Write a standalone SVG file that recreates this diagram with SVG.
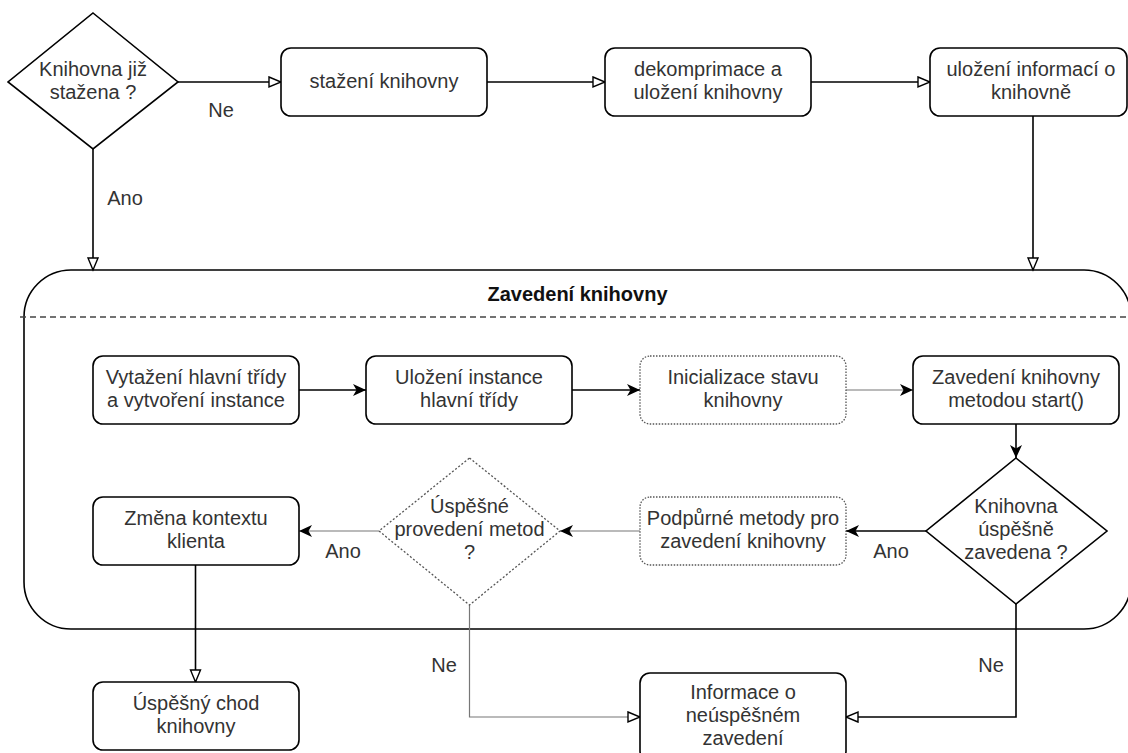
<svg xmlns="http://www.w3.org/2000/svg" width="1128" height="753" viewBox="0 0 1128 753">
<defs>
<style>
text{font-family:"Liberation Sans",Arial,sans-serif;font-size:20px;fill:#333;text-anchor:middle}
.title{font-weight:bold;fill:#111}
.box{fill:#fff;stroke:#000;stroke-width:1.6}
.dotbox{fill:#fff;stroke:#555;stroke-width:1.3;stroke-dasharray:1.5 1.5}
.dashdia{fill:#fff;stroke:#555;stroke-width:1.3;stroke-dasharray:2 2}
.ln{fill:none;stroke:#000;stroke-width:1.6}
.gl{fill:none;stroke:#777;stroke-width:1.2}
.open{marker-end:url(#open)}
.cls{marker-end:url(#cls)}
</style>
<marker id="open" markerUnits="userSpaceOnUse" markerWidth="16" markerHeight="14" refX="13" refY="6" orient="auto">
<path d="M1,1 L13,6 L1,11 Z" fill="#fff" stroke="#000" stroke-width="1.4"/>
</marker>
<marker id="cls" markerUnits="userSpaceOnUse" markerWidth="16" markerHeight="14" refX="13" refY="6" orient="auto">
<path d="M0,0 L13,6 L0,12 L3.5,6 Z" fill="#000"/>
</marker>
</defs>
<g id="zavedeni-knihovny">
<rect x="24" y="270" width="1107" height="359" rx="47" ry="47" fill="#fff" stroke="#000" stroke-width="1.6"/>
<line x1="20" y1="317" x2="1128" y2="317" stroke="#444" stroke-width="1.6" stroke-dasharray="6 4"/>
<text class="title" x="577.5" y="301">Zavedení knihovny</text>
</g>
<g id="connectors">
<path class="ln open" d="M178,82 L281,82"/>
<path class="ln open" d="M487,82 L605,82"/>
<path class="ln open" d="M811,82 L930,82"/>
<path class="ln open" d="M93,149 L93,270"/>
<path class="ln open" d="M1033,116 L1033,270"/>
<path class="ln cls" d="M299,390 L366,390"/>
<path class="ln cls" d="M572,390 L640,390"/>
<path class="gl cls" d="M846,390 L913,390"/>
<path class="ln cls" d="M1016,424 L1016,458"/>
<path class="ln cls" d="M926,531 L846,531"/>
<path class="gl cls" d="M640,531 L560,531"/>
<path class="gl cls" d="M379,531 L299,531"/>
<path class="ln open" d="M195.5,565 L195.5,682"/>
<path class="gl open" d="M469.5,605 L469.5,717 L640,717"/>
<path class="ln open" d="M1016,604 L1016,717 L846,717"/>
<text x="221" y="117">Ne</text>
<text x="125" y="205">Ano</text>
<text x="891" y="558">Ano</text>
<text x="343" y="558">Ano</text>
<text x="444" y="672">Ne</text>
<text x="991" y="672">Ne</text>
</g>
<g id="knihovna-jiz-stazena">
<polygon points="93,13 178,82 93,149 8,82" fill="#fff" stroke="#000" stroke-width="1.6"/>
<text x="93" y="75.5">Knihovna již</text>
<text x="93" y="98.5">stažena ?</text>
</g>
<g id="stazeni-knihovny">
<rect class="box" x="281" y="48" width="206" height="68" rx="10"/>
<text x="384" y="88">stažení knihovny</text>
</g>
<g id="dekomprimace">
<rect class="box" x="605" y="48" width="206" height="68" rx="10"/>
<text x="708" y="75.5">dekomprimace a</text>
<text x="708" y="98.5">uložení knihovny</text>
</g>
<g id="ulozeni-informaci">
<rect class="box" x="930" y="48" width="197" height="68" rx="10"/>
<text x="1031" y="75.5">uložení informací o</text>
<text x="1031" y="98.5">knihovně</text>
</g>
<g id="vytazeni-hlavni-tridy">
<rect class="box" x="93" y="356" width="206" height="68" rx="10"/>
<text x="196" y="383.5">Vytažení hlavní třídy</text>
<text x="196" y="406.5">a vytvoření instance</text>
</g>
<g id="ulozeni-instance">
<rect class="box" x="366" y="356" width="206" height="68" rx="10"/>
<text x="469" y="383.5">Uložení instance</text>
<text x="469" y="406.5">hlavní třídy</text>
</g>
<g id="inicializace-stavu">
<rect class="dotbox" x="640" y="356" width="206" height="68" rx="10"/>
<text x="743" y="383.5">Inicializace stavu</text>
<text x="743" y="406.5">knihovny</text>
</g>
<g id="zavedeni-start">
<rect class="box" x="913" y="356" width="206" height="68" rx="10"/>
<text x="1016" y="383.5">Zavedení knihovny</text>
<text x="1016" y="406.5">metodou start()</text>
</g>
<g id="knihovna-uspesne-zavedena">
<polygon points="1016,458 1107,531 1016,604 926,531" fill="#fff" stroke="#000" stroke-width="1.6"/>
<text x="1016" y="513">Knihovna</text>
<text x="1016" y="536">úspěšně</text>
<text x="1016" y="559">zavedena ?</text>
</g>
<g id="podpurne-metody">
<rect class="dotbox" x="640" y="497" width="206" height="68" rx="10"/>
<text x="743" y="524.5">Podpůrné metody pro</text>
<text x="743" y="547.5">zavedení knihovny</text>
</g>
<g id="uspesne-provedeni">
<polygon class="dashdia" points="469.5,458 560,531 469.5,605 379,531"/>
<text x="469.5" y="513">Úspěšné</text>
<text x="469.5" y="536">provedení metod</text>
<text x="469.5" y="559">?</text>
</g>
<g id="zmena-kontextu">
<rect class="box" x="93" y="497" width="206" height="68" rx="10"/>
<text x="196" y="524.5">Změna kontextu</text>
<text x="196" y="547.5">klienta</text>
</g>
<g id="uspesny-chod">
<rect class="box" x="93" y="682" width="206" height="68" rx="10"/>
<text x="196" y="709.5">Úspěšný chod</text>
<text x="196" y="732.5">knihovny</text>
</g>
<g id="informace-neuspech">
<rect class="box" x="640" y="673" width="206" height="88" rx="10"/>
<text x="743" y="699">Informace o</text>
<text x="743" y="722">neúspěšném</text>
<text x="743" y="745">zavedení</text>
</g>
</svg>
